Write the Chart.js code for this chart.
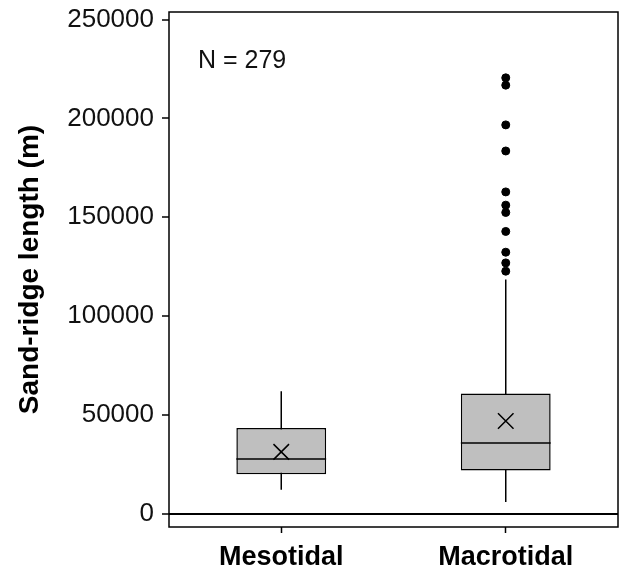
<!DOCTYPE html>
<html>
<head>
<meta charset="utf-8">
<script src="https://cdn.jsdelivr.net/npm/chart.js@4"></script>
<style>
    html, body { margin: 0; padding: 0; overflow: hidden; background: #fff; }
    #wrap { width: 622px; height: 570px; position: relative; }
    canvas { display: block; }
</style>
</head>
<body>
<div id="wrap"><canvas id="boxChart"></canvas></div>
<script>
// valores
const categorias = ['Mesotidal', 'Macrotidal'];
const bigoteInf = [12200, 6000];
const cuartil1 = [20000, 21850];
const mediana = [27700, 35800];
const cuartil3 = [43400, 60800];
const bigoteSup = [62000, 118500];
const medias = [31300, 46900];
const atipicosMacro = [220500, 216800, 196700, 183500, 162800, 156100, 152400, 142800, 132300, 126900, 122700];
const ticksY = [0, 50000, 100000, 150000, 200000, 250000];
const totalN = 279;

const fuente = "'Liberation Sans', Arial, sans-serif";

// linea de la mediana dentro de cada caja
const medianaPlugin = {
    id: 'medianaPlugin',
    afterDatasetDraw(chart, args) {
        if (args.index !== 0) return;
        const ctx = chart.ctx;
        const y = chart.scales.y;
        ctx.save();
        ctx.strokeStyle = '#000';
        ctx.lineWidth = 1.5;
        args.meta.data.forEach((bar, i) => {
            const py = y.getPixelForValue(mediana[i]);
            ctx.beginPath();
            ctx.moveTo(bar.x - bar.width / 2, py);
            ctx.lineTo(bar.x + bar.width / 2, py);
            ctx.stroke();
        });
        ctx.restore();
    }
};

// marco y texto N
const marcoPlugin = {
    id: 'marcoPlugin',
    afterDraw(chart) {
        const ctx = chart.ctx;
        const a = chart.chartArea;
        ctx.save();
        ctx.strokeStyle = '#000';
        ctx.lineWidth = 1.5;
        ctx.strokeRect(a.left, a.top, a.right - a.left, a.bottom - a.top);
        ctx.fillStyle = '#111';
        ctx.font = '25px ' + fuente;
        ctx.textBaseline = 'alphabetic';
        ctx.fillText('N = ' + totalN, a.left + 29, a.top + 55.5);
        ctx.restore();
    }
};

const datasets = [{
    label: 'caja',
    data: categorias.map((c, i) => [cuartil1[i], cuartil3[i]]),
    backgroundColor: '#bfbfbf',
    borderColor: '#000',
    borderWidth: 1.5,
    borderSkipped: false,
    barPercentage: 0.4,
    categoryPercentage: 1,
    order: 2
}];

categorias.forEach((c, i) => {
    datasets.push({
        type: 'line',
        label: 'bigote ' + c,
        data: [{ x: c, y: bigoteInf[i] }, { x: c, y: bigoteSup[i] }],
        borderColor: '#000',
        borderWidth: 1.5,
        pointRadius: 0,
        order: 3
    });
});

datasets.push({
    type: 'line',
    label: 'media',
    data: categorias.map((c, i) => ({ x: c, y: medias[i] })),
    showLine: false,
    pointStyle: 'crossRot',
    pointRadius: 11,
    borderColor: '#000',
    borderWidth: 1.5,
    order: 1
});

datasets.push({
    type: 'line',
    label: 'atipicos',
    data: atipicosMacro.map(v => ({ x: 'Macrotidal', y: v })),
    showLine: false,
    pointRadius: 4,
    backgroundColor: '#000',
    borderColor: '#000',
    borderWidth: 1,
    order: 1
});

function sinPadding(axis) {
    axis.paddingTop = 0;
    axis.paddingBottom = 0;
    axis.paddingLeft = 0;
    axis.paddingRight = 0;
}

const boxChart = new Chart(document.getElementById('boxChart').getContext('2d'), {
    type: 'bar',
    data: { labels: categorias, datasets: datasets },
    options: {
        responsive: true,
        maintainAspectRatio: false,
        animation: false,
        layout: { autoPadding: false, padding: { top: 12, right: 4, left: 0, bottom: 0 } },
        plugins: {
            legend: { display: false },
            tooltip: { enabled: false }
        },
        scales: {
            x: {
                afterFit: (axis) => { axis.height = 43; sinPadding(axis); },
                border: { display: false },
                grid: {
                    offset: false,
                    drawOnChartArea: false,
                    tickLength: 6,
                    tickColor: '#000',
                    tickWidth: 1.5
                },
                ticks: {
                    padding: 8,
                    color: '#000',
                    font: { family: fuente, size: 27, weight: 'bold' }
                }
            },
            y: {
                min: -6700,
                max: 253800,
                afterBuildTicks: (axis) => { axis.ticks = ticksY.map(v => ({ value: v })); },
                afterFit: (axis) => { axis.width = 169; sinPadding(axis); },
                border: { display: false },
                grid: {
                    drawOnChartArea: true,
                    color: (c) => (c.tick && c.tick.value === 0) ? '#000' : 'rgba(0,0,0,0)',
                    lineWidth: 2,
                    tickLength: 7,
                    tickColor: '#000',
                    tickWidth: 1.5
                },
                ticks: {
                    padding: 8,
                    color: '#111',
                    font: { family: fuente, size: 26 },
                    callback: (v) => String(v)
                },
                title: {
                    display: true,
                    text: 'Sand-ridge length (m)',
                    color: '#000',
                    padding: { top: 13, bottom: 0 },
                    font: { family: fuente, size: 28, weight: 'bold' }
                }
            }
        }
    },
    plugins: [medianaPlugin, marcoPlugin]
});
</script>
</body>
</html>
